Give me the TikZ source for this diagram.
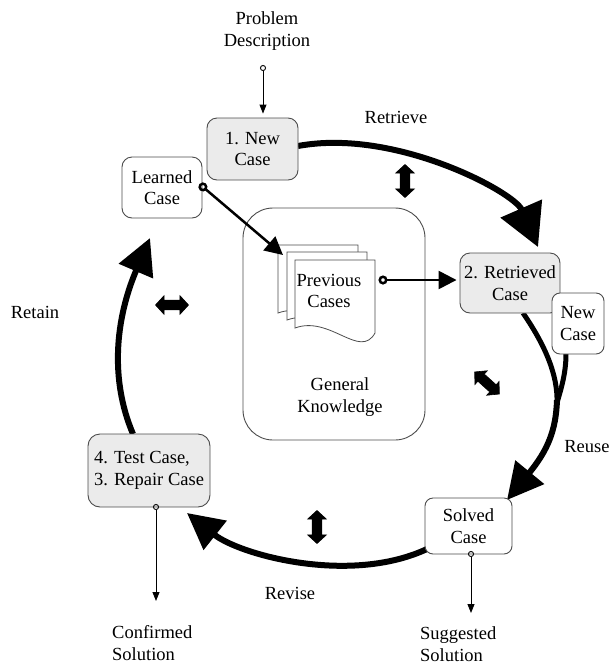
\documentclass[tikz,border=0pt]{standalone}
\usepackage{fontspec}
\setmainfont{Liberation Serif}
\usetikzlibrary{arrows.meta,shapes.arrows}
\pgfdeclarelayer{bg}
\pgfsetlayers{bg,main}

\begin{document}
\begin{tikzpicture}[x=1pt,y=-1pt,
  every node/.style={font=\fontsize{18.5}{21.5}\selectfont, inner sep=0pt},
  txt/.style={align=center},
  casebox/.style={draw=black!70, line width=0.9pt, rounded corners=10pt, fill=white, align=center},
  shadedbox/.style={casebox, fill=black!8},
  cyclearc/.style={line width=6pt, -{Triangle[length=36pt,width=36pt]}},
  branch/.style={line width=5pt},
  outlink/.style={line width=0.9pt, {Circle[open,length=6pt,width=6pt]}-{Triangle[length=9pt,width=7pt]}},
  inlink/.style={line width=2.5pt, {Circle[open,length=9pt,width=9pt]}-{Triangle[length=18pt,width=18pt]}},
  twoway/.style={double arrow, fill=black, draw=black, line width=0.6pt, minimum height=33pt,
    double arrow head extend=4.5pt, double arrow tip angle=95, inner sep=0pt},
  sheet/.style={draw=black!70, line width=0.8pt, fill=white},
]
\useasboundingbox (0,0) rectangle (612,665);

% labels
\node[txt] (prob) at (267,31) {Problem\\Description};
\node (retrieve) at (396,117) {Retrieve};
\node (retain) at (35,312) {Retain};
\node (reuse) at (587,447) {Reuse};
\node (revise) at (290,593) {Revise};
\node[anchor=west, align=left] (sugg) at (420,644) {Suggested\\Solution};
\node[anchor=west, align=left] (conf) at (112,643) {Confirmed\\Solution};

% case boxes
\node[shadedbox, minimum width=91pt, minimum height=62pt] (newcase) at (252.5,149) {1. New\\Case};
\node[casebox, minimum width=80pt, minimum height=61pt] (learned) at (162,187.5) {Learned\\Case};
\node[draw=black!70, line width=0.9pt, rounded corners=30pt, minimum width=182pt, minimum height=232pt] (gk) at (334,324) {};
\node[txt] (gktext) at (340,397) {General\\Knowledge};
\node[shadedbox, minimum width=100pt, minimum height=60pt] (retrieved) at (510,283) {2. Retrieved\\Case};
\node[casebox, rounded corners=8pt, minimum width=52pt, minimum height=61pt] (newcase2) at (578,323.5) {New\\Case};
\node[casebox, rounded corners=8pt, minimum width=87pt, minimum height=56pt] (solved) at (468.5,526) {Solved\\Case};
\node[shadedbox, rounded corners=12pt, minimum width=122pt, minimum height=73pt, align=left] (test) at (149,470.5) {4. Test Case,\\3. Repair Case};

% stack of previous cases
\foreach \dx/\dy in {-17/-15, -8/-8, 0/0} {
  \draw[sheet, shift={(\dx,\dy)}] (295,260) -- (375,260) -- (375,333)
    .. controls (360,360) and (330,315) .. (295,328) -- cycle;
}
\node[txt] (prev) at (329,291) {Previous\\Cases};

% end points of the connectors
\coordinate (probout) at (263,65);
\coordinate (learnedout) at (199.5,184);
\coordinate (stackin) at (283,255);
\coordinate (prevout) at (378.5,280);
\coordinate (solvedout) at (471,551);
\coordinate (suggin) at (471,613);
\coordinate (testout) at (156,504);
\coordinate (confin) at (156,601);

\draw[outlink] (probout) -- ([yshift=4pt]probout |- newcase.north);
\draw[outlink] (solvedout) -- (suggin);
\draw[outlink] (testout) -- (confin);
\draw[inlink] (learnedout) -- (stackin);
\draw[inlink] (prevout) -- ([xshift=-3pt]prevout -| retrieved.west);

% the four steps of the cycle
\coordinate (retA) at (298,146);
\coordinate (retB) at (538,247);
\coordinate (useA) at (523,313);
\coordinate (useB) at (566,354);
\coordinate (useM) at (557,403);
\coordinate (useC) at (507,500);
\coordinate (revA) at (427,549);
\coordinate (revB) at (187,513);
\coordinate (tainA) at (133,434);
\coordinate (tainB) at (150,238);

\begin{pgfonlayer}{bg}
\draw[cyclearc, -{Triangle[length=42pt,width=44pt]}] (retA) .. controls (395,128) and (514,192) .. (retB);
\draw[branch] (useA) .. controls (545,345) and (558,375) .. (useM);
\draw[branch] (useB) .. controls (566,375) and (560,392) .. (useM);
\draw[cyclearc] ([yshift=3pt]useM) .. controls (556,430) and (548,450) .. (useC);
\draw[cyclearc] (revA) .. controls (350,585) and (240,555) .. (revB);
\draw[cyclearc] (tainA) .. controls (110,380) and (115,320) .. (tainB);
\end{pgfonlayer}

% two-way exchanges with the general knowledge
\node[twoway, rotate=90] (k1) at (405,181) {\rule{0pt}{9pt}};
\node[twoway] (k2) at (172,305) {\rule{0pt}{9pt}};
\node[twoway, rotate=-42] (k3) at (487,383) {\rule{0pt}{9pt}};
\node[twoway, rotate=90] (k4) at (317,527) {\rule{0pt}{9pt}};
\end{tikzpicture}
\end{document}
